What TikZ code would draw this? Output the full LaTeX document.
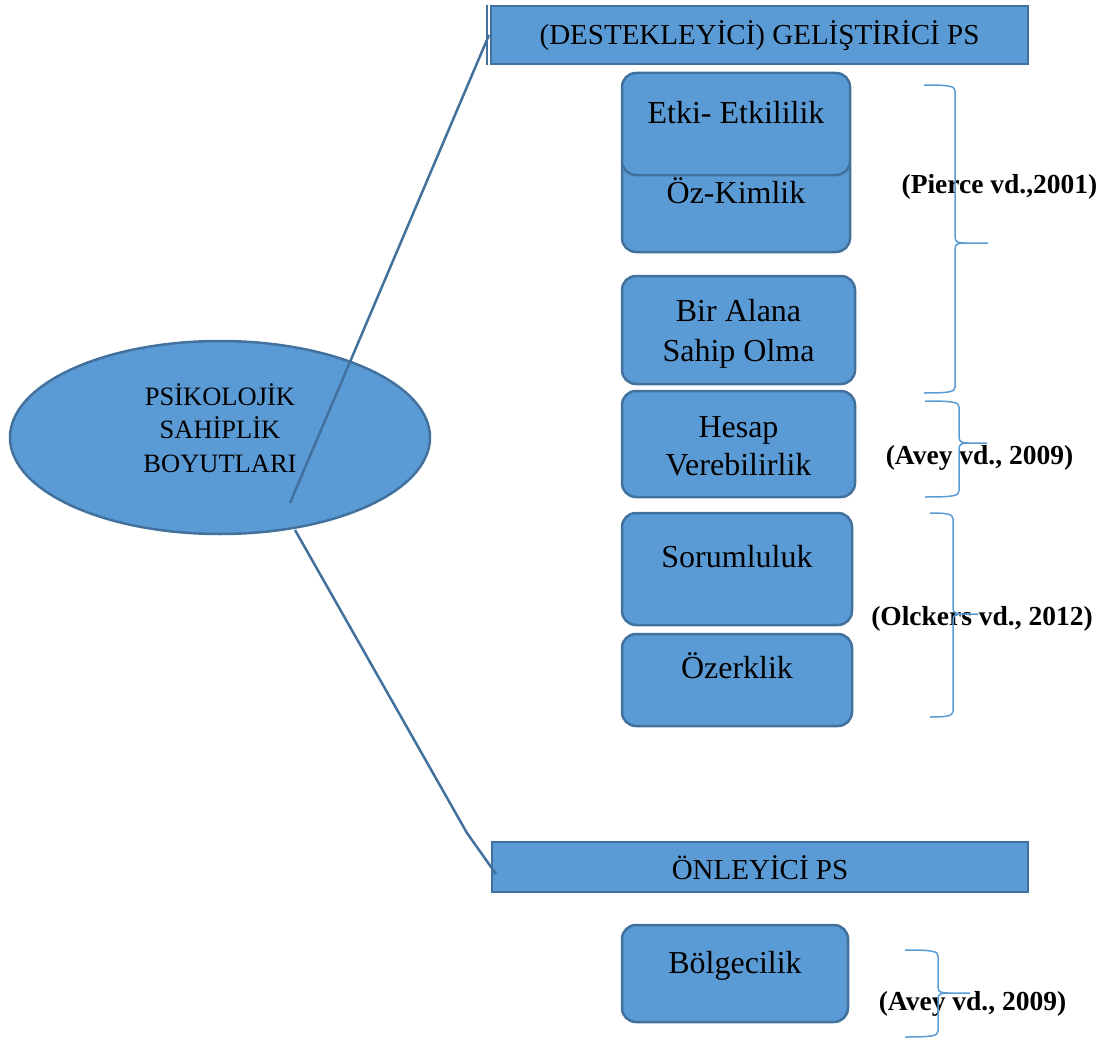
\documentclass[tikz,border=0pt]{standalone}
\usepackage{fontspec}
\setmainfont{Liberation Serif}
\usetikzlibrary{shapes.geometric}
\definecolor{fillb}{HTML}{5B9BD5}
\definecolor{edgeb}{HTML}{41719C}
\definecolor{braceb}{HTML}{5B9BD5}
\newcommand\refbrace[6]{%
  \draw[brace] (#1,#3) .. controls (#2-6,#3) and (#2,#3+1) .. (#2,#3+6)
    -- (#2,#4-6) .. controls (#2,#4-1) and (#2+3,#4) .. (#2+10,#4) -- (#5,#4)
    -- (#2+10,#4) .. controls (#2+3,#4) and (#2,#4+1) .. (#2,#4+6)
    -- (#2,#6-6) .. controls (#2,#6-1) and (#2-6,#6) .. (#1,#6);}
\begin{document}
\begin{tikzpicture}[x=1pt,y=-1pt,
  box/.style={draw=edgeb,fill=fillb,line width=2.5pt,rounded corners=14pt,inner sep=0},
  hdr/.style={draw=edgeb,fill=fillb,line width=2.5pt,inner sep=0},
  btxt/.style={font=\fontsize{32}{38}\selectfont,inner sep=0,anchor=base},
  htxt/.style={font=\fontsize{29}{34}\selectfont,inner sep=0,anchor=base},
  etxt/.style={font=\fontsize{26.5}{32}\selectfont,inner sep=0,anchor=base},
  reftxt/.style={font=\fontsize{27.5}{32}\selectfont\bfseries,inner sep=0,anchor=base},
  conn/.style={draw=edgeb,line width=2.5pt},
  brace/.style={draw=braceb,line width=1.5pt}]
\useasboundingbox (0,0) rectangle (1109,1041);

% headers
\node[hdr,minimum width=537pt,minimum height=58pt] (hdr1) at (759.5,35) {};
\node[htxt] (hdr1t) at (759.5,44.5) {(DESTEKLEYİCİ) GELİŞTİRİCİ PS};
\node[hdr,minimum width=536pt,minimum height=50pt] (hdr2) at (760,867) {};
\node[htxt] (hdr2t) at (760,879.5) {ÖNLEYİCİ PS};

% boxes
\node[box,minimum width=228pt,minimum height=102pt] (oz) at (736,201) {};
\node[btxt] (ozt) at (736,203) {Öz-Kimlik};
\node[box,minimum width=228pt,minimum height=102pt] (etki) at (736,124) {};
\node[btxt] (etkit) at (736,124) {Etki- Etkililik};
\node[box,minimum width=233pt,minimum height=108pt] (alan) at (738.5,330) {};
\node[btxt] (alant1) at (738.5,321) {Bir Alana};
\node[btxt] (alant2) at (738.5,361) {Sahip Olma};
\node[box,minimum width=233pt,minimum height=106pt] (hesap) at (738.5,444) {};
\node[btxt] (hesapt1) at (738.5,437) {Hesap};
\node[btxt] (hesapt2) at (738.5,475) {Verebilirlik};
\node[box,minimum width=230pt,minimum height=112pt] (sorum) at (737,569) {};
\node[btxt] (sorumt) at (737,567) {Sorumluluk};
\node[box,minimum width=230pt,minimum height=92pt] (ozerk) at (737,680) {};
\node[btxt] (ozerkt) at (737,678) {Özerklik};
\node[box,minimum width=226pt,minimum height=97pt] (bolge) at (735,973.5) {};
\node[btxt] (bolget) at (735,973) {Bölgecilik};

% ellipse
\node[ellipse,draw=edgeb,fill=fillb,line width=2.5pt,minimum width=420pt,minimum height=193pt,inner sep=0] (ell) at (220,437.5) {};
\node[etxt] (ellt1) at (220,405) {PSİKOLOJİK};
\node[etxt] (ellt2) at (220,438) {SAHİPLİK};
\node[etxt] (ellt3) at (220,472) {BOYUTLARI};

% connectors
\coordinate (c1s) at (290,503);
\coordinate (c1e) at (489,35);
\draw[conn] (c1s) -- (c1e);
\draw[draw=edgeb,line width=2pt] ([xshift=-3pt]hdr1.north west) -- ([xshift=-3pt]hdr1.south west);
\coordinate (c2s) at (295,530);
\coordinate (c2k) at (467,833);
\coordinate (c2e) at (496,874);
\draw[conn] (c2s) -- (c2k) -- (c2e);

% references
\node[reftxt] (r1) at (999.5,193) {(Pierce vd.,2001)};
\node[reftxt] (r2) at (979.5,464) {(Avey vd., 2009)};
\node[reftxt] (r3) at (982,625) {(Olckers vd., 2012)};
\node[reftxt] (r4) at (972.5,1010) {(Avey vd., 2009)};

% braces
\refbrace{924}{955}{85}{243}{988}{393}
\refbrace{925}{959}{401}{443}{987}{497}
\refbrace{930}{953}{513}{614}{978}{717}
\refbrace{905}{938}{950}{993}{970}{1037}
\end{tikzpicture}
\end{document}
